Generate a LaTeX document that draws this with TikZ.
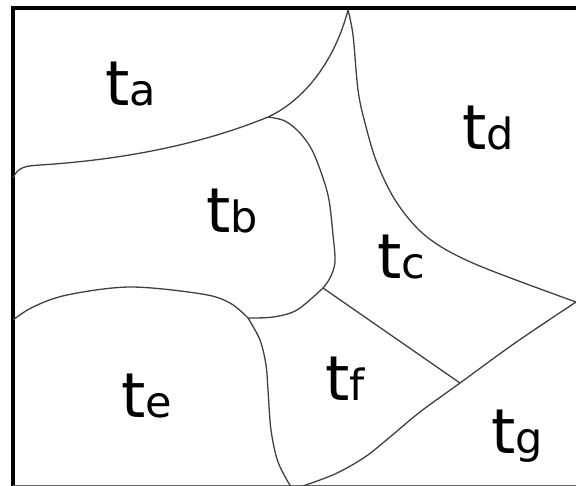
\documentclass[tikz,border=0pt]{standalone}
\usepackage{fontspec}
\setmainfont{DejaVu Sans}
\newcommand\tlab[1]{{\fontsize{62}{62}\selectfont t}{\fontsize{43}{43}\selectfont #1}}
\begin{document}
\begin{tikzpicture}[x=1pt,y=-1pt,
  edge/.style={draw=black!75, line width=1.3pt, smooth, tension=0.55},
  lab/.style={anchor=base west, inner sep=0pt, text=black}]
\useasboundingbox (0,0) rectangle (576,485);
\coordinate (J0) at (348,10);
\coordinate (J1) at (268,117);
\coordinate (J2) at (323,288);
\coordinate (J3) at (248,318);
\coordinate (J4) at (460,383);
\coordinate (R) at (576,302);
% frame
\draw[line width=4pt] (13,487) -- (13,7.5) -- (590,7.5);
\draw[line width=4pt, black!60] (13,487) -- (590,487);
% boundaries
\draw[edge] (13,178) .. controls (18,167) and (25,166) .. (40,165)
  .. controls (120,160) and (200,145) .. (J1)
  .. controls (305,100) and (335,60) .. (J0);
\draw[edge] plot coordinates {(J1) (285,121) (300,133) (312,150) (322,175) (329,200) (333,235) (335,262) (330,278) (J2)};
\draw[edge] plot coordinates {(J2) (297,310) (273,317) (J3)};
\draw[edge] plot coordinates {(13,320) (33,307) (67,295) (130,287) (202,294) (230,303) (J3)};
\draw[edge] plot coordinates {(J3) (260,340) (266,365) (268,390) (271,430) (278,462) (291,487)};
\draw[edge] plot coordinates {(J0) (353,35) (358,90) (365,123) (377,163) (397,203) (427,237) (475,264) (R)};
\draw[black!75, line width=1.3pt] (J2) -- (J4);
\draw[edge] plot coordinates {(R) (515,343) (J4) (420,412) (390,437) (365,457) (335,474) (300,487)};
% labels
\node[lab] (ta) at (105,105) {\tlab{a}};
\node[lab] (tb) at (206,232) {\tlab{b}};
\node[lab] (tc) at (377,278) {\tlab{c}};
\node[lab] (td) at (462,149) {\tlab{d}};
\node[lab] (te) at (121,417) {\tlab{e}};
\node[lab] (tf) at (325,400) {\tlab{f}};
\node[lab] (tg) at (491,453) {\tlab{g}};
\end{tikzpicture}
\end{document}
